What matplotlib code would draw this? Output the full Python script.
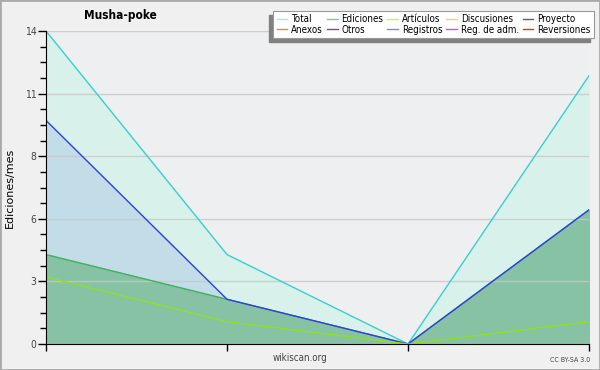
import numpy as np
import matplotlib
matplotlib.use('Agg')
import matplotlib.pyplot as plt
from matplotlib.lines import Line2D
from matplotlib.patches import Rectangle

# Datos (ediciones por mes)
meses = [0, 1, 2, 3]
total = [14, 4, 0, 12]
registros = [10, 2, 0, 6]
ediciones = [4, 2, 0, 6]
articulos = [3, 1, 0, 1]

y_max = 14
y_ticks = [0, 2.8, 5.6, 8.4, 11.2, 14]
y_tick_labels = ['0', '3', '6', '8', '11', '14']

leyenda_nombres = ['Total', 'Ediciones', 'Artículos', 'Discusiones', 'Proyecto',
                   'Anexos', 'Otros', 'Registros', 'Reg. de adm.', 'Reversiones']
leyenda_colores = ['#a8e8e0', '#80c890', '#c8f060', '#f8d060', '#606060',
                   '#f08040', '#8040c0', '#8080f0', '#d050d0', '#e03030']

plt.rcParams['font.family'] = ['DejaVu Sans']
plt.rcParams['font.stretch'] = 'condensed'

fig = plt.figure(figsize=(6, 3.7), dpi=100, facecolor='#f0f0f0')
ax = fig.add_axes([46/600, 1 - 344/370, (589-46)/600, (344-31)/370])
ax.set_facecolor('#eeeff1')

# rellenos
ax.fill_between(meses, total, color='#d8f1ea', zorder=1)
ax.fill_between(meses, registros, color='#c2dde8', zorder=1.1)
ax.fill_between(meses, ediciones, color='#88c2a4', zorder=1.2)

# lineas
ax.plot(meses, total, color='#38d0cc', lw=1, zorder=3)
ax.plot(meses, registros, color='#3040e0', lw=1, zorder=3.1)
ax.plot(meses, ediciones, color='#40b060', lw=1, zorder=3.05)
ax.plot(meses, articulos, color='#90e020', lw=1, zorder=3.2)

ax.set_xlim(meses[0], meses[-1])
ax.set_ylim(0, y_max)
ax.set_xticks(meses)
ax.set_xticklabels([])
ax.set_yticks(y_ticks)
ax.set_yticklabels(y_tick_labels)
ax.set_yticks(np.arange(0, y_max + 0.01, 0.7), minor=True)
ax.tick_params(axis='y', which='major', length=6, width=1, labelsize=7.5,
               labelcolor='#444444', pad=1)
ax.tick_params(axis='y', which='minor', length=4, width=1)
ax.tick_params(axis='x', which='major', length=5, width=1)

ax.grid(axis='y', which='major', color='#c8c8c8', lw=1, alpha=0.8, zorder=2)
ax.set_axisbelow(False)
for s in ['top', 'right']:
    ax.spines[s].set_visible(False)
ax.spines['left'].set_zorder(5)
ax.spines['bottom'].set_zorder(5)

ax.set_ylabel('Ediciones/mes', fontsize=8, fontstretch='normal')
ax.yaxis.set_label_coords(-0.057, 0.5)

fig.text(120/600, 1 - 15/370, 'Musha-poke', ha='center', va='center',
         fontsize=8.5, fontweight='bold')
fig.text(300/600, 1 - 358/370, 'wikiscan.org', ha='center', va='center',
         fontsize=7, color='#444444')
fig.text(590/600, 1 - 360/370, 'CC BY-SA 3.0', ha='right', va='center',
         fontsize=5, color='#444444')

# leyenda (orden por columnas)
handles = [Line2D([], [], color=c, lw=1) for c in leyenda_colores]
orden = [0, 5, 1, 6, 2, 7, 3, 8, 4, 9]
leg = fig.legend([handles[i] for i in orden], [leyenda_nombres[i] for i in orden],
                 ncol=5, loc='upper right', bbox_to_anchor=(594/600, 1 - 11/370),
                 fontsize=7, frameon=True, fancybox=False, edgecolor='#999999',
                 framealpha=1, handlelength=1.1, handletextpad=0.4,
                 columnspacing=0.4, labelspacing=0.05, borderpad=0.35,
                 borderaxespad=0)
leg.get_frame().set_linewidth(0.8)
leg.set_zorder(10)

fig.canvas.draw()
bb = leg.get_window_extent().transformed(fig.transFigure.inverted())
sombra = Rectangle((bb.x0 - 4/600, bb.y0 - 4/370), bb.width, bb.height,
                   transform=fig.transFigure, color='#808080', zorder=9)
fig.patches.append(sombra)

# borde
fig.patches.append(Rectangle((0, 0), 1, 1, transform=fig.transFigure,
                             fill=False, edgecolor='#aaaaaa', lw=2, zorder=20))

fig.savefig('out.png', dpi=100, facecolor=fig.get_facecolor())
